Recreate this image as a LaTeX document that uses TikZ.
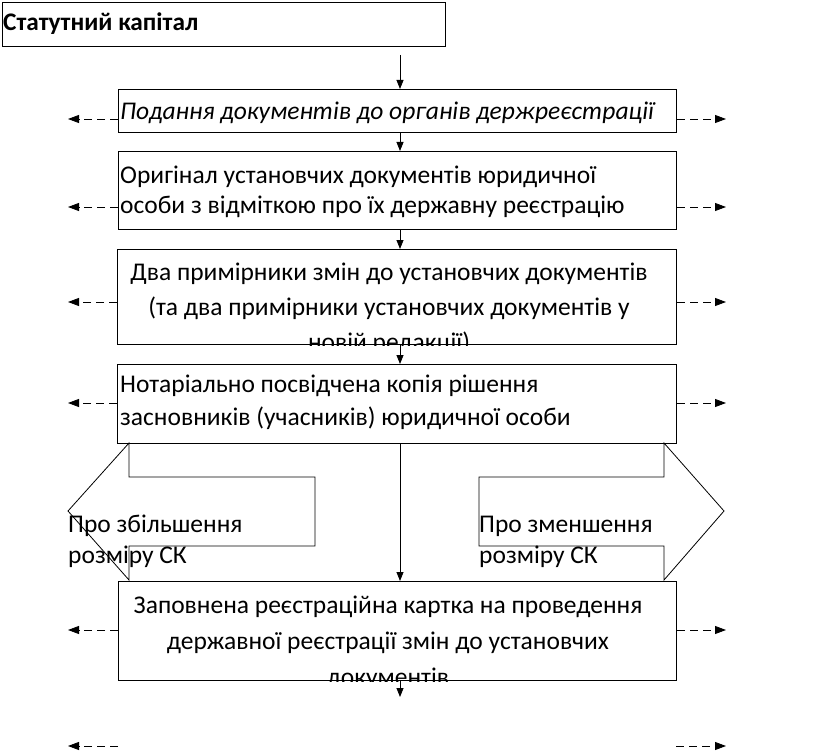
\documentclass[tikz,border=0pt]{standalone}
\usepackage{fontspec}
\setmainfont{Carlito}
\usetikzlibrary{arrows.meta}
\begin{document}
\begin{tikzpicture}[x=1pt,y=-1pt,
  box/.style={draw, line width=1pt, anchor=north west, inner sep=0pt},
  txt/.style={inner sep=0pt},
  flow/.style={-{Triangle[length=9pt,width=7pt]}, line width=0.8pt},
  side/.style={dash pattern=on 8pt off 5pt, -{Triangle[length=11pt,width=8pt]}, line width=0.8pt},
  blockarrow/.style={draw, line width=0.8pt},
]
\useasboundingbox (0,0) rectangle (816,754);
\fill[white] (0,0) rectangle (816,754);

% boxes
\node[box, minimum width=443pt, minimum height=44pt] (b1) at (2,2) {};
\node[box, minimum width=558pt, minimum height=43pt] (b2) at (118,89) {};
\node[box, minimum width=558pt, minimum height=78pt] (b3) at (118,151) {};
\node[box, minimum width=559pt, minimum height=95pt] (b4) at (117,249) {};
\node[box, minimum width=559pt, minimum height=79pt] (b5) at (117,364) {};
\node[box, minimum width=558pt, minimum height=99pt] (b6) at (118,581) {};

% texts (base anchor = baseline of last line)
\node[txt, anchor=base west, font=\bfseries\fontsize{25.3}{30}\selectfont] (t1) at (3,31) {Статутний капітал};
\node[txt, anchor=base west, font=\itshape\fontsize{25.5}{30}\selectfont] (t2) at (120,120) {Подання документів до органів держреєстрації};
\node[txt, anchor=base west, align=left, font=\fontsize{25.5}{31}\selectfont] (t3) at (120,214) {Оригінал установчих документів юридичної\\особи з відміткою про їх державну реєстрацію};
\begin{scope}
\clip (b4.north west) rectangle (b4.south east);
\node[txt, anchor=base, align=center, font=\fontsize{25.5}{35}\selectfont] (t4) at (389,350) {Два примірники змін до установчих документів\\(та два примірники установчих документів у\\новій редакції)};
\end{scope}
\node[txt, anchor=base west, align=left, font=\fontsize{25.5}{33}\selectfont] (t5) at (120,425) {Нотаріально посвідчена копія рішення\\засновників (учасників) юридичної особи};
\begin{scope}
\clip (b6.north west) rectangle (b6.south east);
\node[txt, anchor=base, align=center, font=\fontsize{25.5}{36}\selectfont] (t6) at (388,685) {Заповнена реєстраційна картка на проведення\\державної реєстрації змін до установчих\\документів};
\end{scope}

% block arrows
\draw[blockarrow] (129,443) -- (129,477) -- (315,477) -- (315,546) -- (129,546) -- (129,580) -- (68,511) -- cycle;
\draw[blockarrow] (664,443) -- (724,511) -- (664,580) -- (664,546) -- (479,546) -- (479,477) -- (664,477) -- cycle;
\node[txt, anchor=base west, align=left, font=\fontsize{25.5}{31}\selectfont] (tl) at (68,563) {Про збільшення\\розміру СК};
\node[txt, anchor=base west, align=left, font=\fontsize{25.5}{31}\selectfont] (tr) at (479,563) {Про зменшення\\розміру СК};

% vertical flow arrows
\coordinate (a1) at (400,55);
\draw[flow] (a1) -- (a1 |- b2.north);
\draw[flow] (b2.south -| a1) -- (b3.north -| a1);
\draw[flow] (b3.south -| a1) -- (b4.north -| a1);
\draw[flow] (b4.south -| a1) -- (b5.north -| a1);
\draw[flow] (b5.south -| a1) -- (b6.north -| a1);
\coordinate (a7) at (400,697);
\draw[flow] (b6.south -| a7) -- (a7);

% side dashed arrows
\foreach \b/\yy in {b2/119, b3/207, b4/302, b5/403, b6/630} {
  \coordinate (L\b) at (68,\yy);
  \coordinate (R\b) at (726,\yy);
  \draw[side] (\b.west |- L\b) -- (L\b);
  \draw[side] (\b.east |- R\b) -- (R\b);
}
\coordinate (Lbot) at (68,746);
\coordinate (Rbot) at (726,746);
\coordinate (Lbs) at (118,746);
\coordinate (Rbs) at (676,746);
\draw[side] (Lbs) -- (Lbot);
\draw[side] (Rbs) -- (Rbot);
\end{tikzpicture}
\end{document}
